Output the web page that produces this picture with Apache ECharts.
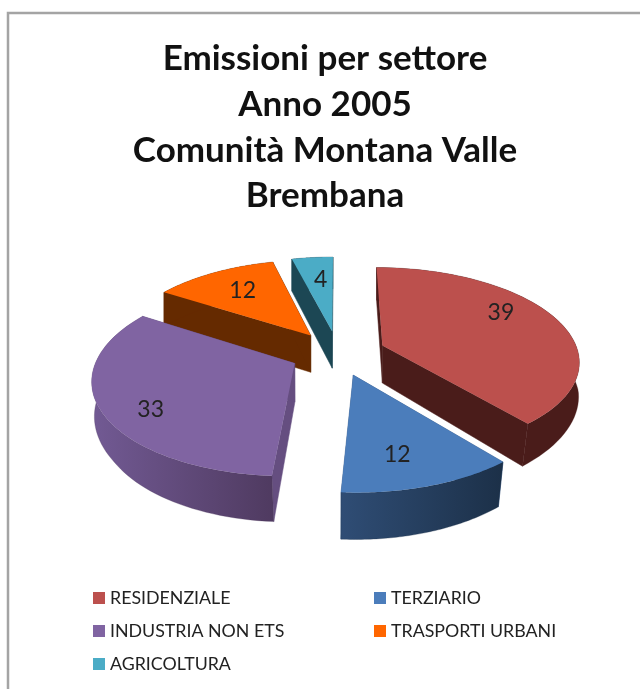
<!DOCTYPE html>
<html><head><meta charset="utf-8">
<style>html,body{margin:0;padding:0;background:#fff}#c{width:640px;height:689px;filter:blur(0.55px)}</style>
<script src="https://cdn.jsdelivr.net/npm/echarts@6/dist/echarts.min.js"></script>
</head><body><div id="c"></div>
<script>
const titleLines = ['Emissioni per settore','Anno 2005','Comunità Montana Valle','Brembana'];
const categories = ['RESIDENZIALE','TERZIARIO','INDUSTRIA NON ETS','TRASPORTI URBANI','AGRICOLTURA'];
const values = [39,12,33,12,4];

// styling of each slice, in category order
const topColors  = ['#bc504d','#4b7dbb','#8064a2','#ff6600','#4bacc6'];
const sideColors = ['#4a1c1a','#3a5f8e','#654e80','#652a00','#1c4754'];
const wallLeft   = ['#4a1c1a','#2f4d75','#725a94','#652a00','#1c4754'];
const wallRight  = ['#4a1c1a','#1c3048','#4f3a60','#652a00','#1c4754'];
const paintOrder = [2,4,3,1,0];               // z order, back to front
const labelNudge = [[-3,-12],[-7,6],[-11,14],[2,0],[3,2]];

// projection of the tilted, exploded disc
const CX=338, CY=353, RX=196, RY=92, PERSP=0.153, EXPLODE=0.2437, DEPTH=38, LABEL_R=0.7;
const total = values.reduce((a,b)=>a+b,0);
const starts = values.map((v,i)=>values.slice(0,i).reduce((a,b)=>a+b,0)/total*Math.PI*2);
function project(X,Y){const s=1/(1-PERSP*Y);return [CX+RX*X*s,CY+RY*Y*s,s];}
function bottom(p){
  const shrink=Math.min(1,Math.max(0.972,1-(p[2]-1)*0.25));
  return [CX+(p[0]-CX)*shrink,p[1]+DEPTH*p[2]];
}

function sliceItem(i){
  return function(params,api){
    const span=api.value(0)/total*Math.PI*2, t0=starts[i], mid=t0+span/2;
    const ex=EXPLODE*Math.sin(mid), ey=-EXPLODE*Math.cos(mid);
    const pt=(r,t)=>project(ex+r*Math.sin(t),ey-r*Math.cos(t));
    const apex=pt(0,0), arc=[], N=60;
    for(let k=0;k<=N;k++) arc.push(pt(1,t0+span*k/N));
    const xy=p=>[p[0],p[1]];
    const side=(p)=>({type:'polygon',shape:{points:[xy(apex),xy(p),bottom(p),bottom(apex)]},
      style:{fill:sideColors[i],stroke:sideColors[i],lineWidth:0.5}});
    const wallFill=new echarts.graphic.LinearGradient(0,0,1,0,[{offset:0,color:wallLeft[i]},{offset:1,color:wallRight[i]}]);
    const wall={type:'polygon',shape:{points:arc.map(xy).concat(arc.slice().reverse().map(bottom))},
      style:{fill:wallFill,stroke:wallRight[i],lineWidth:0.3}};
    const top={type:'polygon',shape:{points:[xy(apex)].concat(arc.map(xy))},style:{fill:topColors[i]}};
    const lp=pt(LABEL_R,mid);
    const label={type:'text',style:{text:String(api.value(0)),x:lp[0]+labelNudge[i][0],y:lp[1]+labelNudge[i][1],
      fill:'#222',font:'23px Lato',align:'center',verticalAlign:'middle'}};
    return {type:'group',children:[side(arc[0]),side(arc[N]),wall,top,label]};
  };
}

const chart=echarts.init(document.getElementById('c'));
const legendText={fontFamily:'Lato',fontSize:17.8,lineHeight:18,color:'#222'};
chart.setOption({
  animation:false,
  backgroundColor:'#fff',
  title:{text:titleLines.join('\n'),left:320,top:31,textAlign:'center',
    textStyle:{fontFamily:'Lato',fontWeight:'bold',fontSize:35,lineHeight:45.7,color:'#111'}},
  legend:[
    {data:[categories[0],categories[2],categories[4]],orient:'vertical',left:93,top:589,itemWidth:12,itemHeight:12,itemGap:15,
     icon:'rect',textStyle:legendText,selectedMode:false,padding:0},
    {data:[categories[1],categories[3]],orient:'vertical',left:374,top:589,itemWidth:12,itemHeight:12,itemGap:15,
     icon:'rect',textStyle:legendText,selectedMode:false,padding:0}
  ],
  graphic:[{type:'polyline',silent:true,shape:{points:[[8,689],[8,13],[640,13]]},style:{stroke:'#a4a4a4',lineWidth:2.5,fill:null}}],
  series:categories.map((name,i)=>({
    type:'custom',name,coordinateSystem:'none',z:paintOrder[i]+2,
    itemStyle:{color:topColors[i]},silent:true,
    renderItem:sliceItem(i),data:[[values[i]]]
  }))
});
</script></body></html>
